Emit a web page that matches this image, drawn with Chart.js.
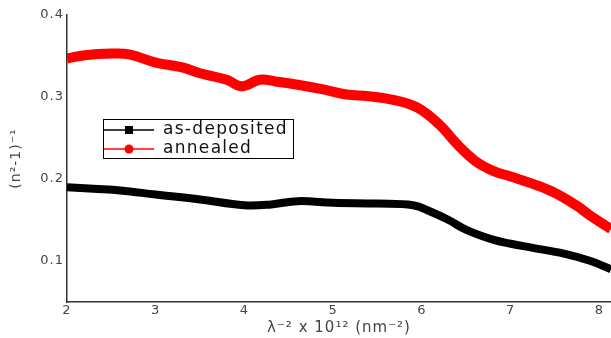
<!DOCTYPE html>
<html>
<head>
<meta charset="utf-8">
<script src="https://cdn.jsdelivr.net/npm/chart.js@4"></script>
<style>
  html, body { margin: 0; padding: 0; background: #fff; }
  #wrap { width: 611px; height: 338px; position: relative; }
</style>
</head>
<body>
<div id="wrap"><canvas id="chart"></canvas></div>
<script>
// values
const depositedX = [2.0, 2.3, 2.6, 3.0, 3.5, 4.0, 4.3, 4.6, 5.0, 5.5, 5.9, 6.1, 6.3, 6.5, 6.8, 7.0, 7.25, 7.6, 7.9, 8.13];
const depositedY = [0.190, 0.188, 0.186, 0.181, 0.175, 0.168, 0.169, 0.173, 0.171, 0.170, 0.168, 0.160, 0.150, 0.138, 0.126, 0.121, 0.116, 0.109, 0.100, 0.090];

const annealedX = [2.0, 2.2, 2.5, 2.7, 3.0, 3.3, 3.5, 3.8, 3.97, 4.17, 4.35, 4.6, 4.9, 5.15, 5.4, 5.7, 5.95, 6.2, 6.4, 6.6, 6.8, 7.0, 7.25, 7.5, 7.75, 7.9, 8.13];
const annealedY = [0.347, 0.351, 0.353, 0.352, 0.342, 0.336, 0.329, 0.321, 0.313, 0.321, 0.319, 0.315, 0.309, 0.303, 0.301, 0.296, 0.287, 0.266, 0.242, 0.222, 0.210, 0.203, 0.194, 0.183, 0.167, 0.155, 0.139];

const yTicks = [0.1, 0.2, 0.3, 0.4];
const seriesNames = ['as-deposited', 'annealed'];

const FONT = 'DejaVu Sans';

function toPoints(xs, ys) {
    return xs.map((x, i) => ({ x: x, y: ys[i] }));
}

// the reference lettering is wide, so space it out a little
const wideText = {
    id: 'wideText',
    beforeDraw(chart) {
        chart.ctx.letterSpacing = '1px';
    }
};

// small boxed legend sitting inside the plot
const boxLegend = {
    id: 'boxLegend',
    afterDraw(chart) {
        const ctx = chart.ctx;
        const left = 103, top = 119, w = 190, h = 39;
        ctx.save();
        ctx.strokeStyle = '#000';
        ctx.lineWidth = 1;
        ctx.strokeRect(left + 0.5, top + 0.5, w, h);

        const rows = [
            { y: top + 11, color: '#000', marker: 'square' },
            { y: top + 30, color: '#ff0000', marker: 'circle' }
        ];
        rows.forEach((r, i) => {
            ctx.strokeStyle = r.color;
            ctx.lineWidth = 1.5;
            ctx.beginPath();
            ctx.moveTo(left + 1, r.y);
            ctx.lineTo(left + 51, r.y);
            ctx.stroke();
            ctx.fillStyle = r.color;
            if (r.marker === 'square') {
                ctx.fillRect(left + 22, r.y - 4, 8, 8);
            } else {
                ctx.beginPath();
                ctx.arc(left + 26, r.y, 4.5, 0, Math.PI * 2);
                ctx.fill();
            }
            ctx.fillStyle = '#111';
            ctx.font = '17px "' + FONT + '"';
            ctx.letterSpacing = '1.3px';
            ctx.textBaseline = 'middle';
            ctx.fillText(seriesNames[i], left + 60, r.y);
        });
        ctx.restore();
    }
};

const chart = new Chart(document.getElementById('chart'), {
    type: 'line',
    data: {
        datasets: [
            {
                label: seriesNames[0],
                data: toPoints(depositedX, depositedY),
                borderColor: '#000',
                borderWidth: 8,
                pointRadius: 0,
                tension: 0.4
            },
            {
                label: seriesNames[1],
                data: toPoints(annealedX, annealedY),
                borderColor: '#ff0000',
                borderWidth: 10,
                pointRadius: 0,
                tension: 0.4
            }
        ]
    },
    options: {
        responsive: true,
        maintainAspectRatio: false,
        animation: false,
        layout: { padding: { top: 15, right: 0, left: 0, bottom: 0 } },
        plugins: {
            legend: { display: false },
            tooltip: { enabled: false }
        },
        scales: {
            x: {
                type: 'linear',
                min: 2,
                max: 8.13,
                border: { color: '#333', width: 1.5 },
                grid: { display: false, drawTicks: false },
                afterBuildTicks: function (scale) {
                    scale.ticks = [2, 3, 4, 5, 6, 7, 8].map(v => ({ value: v }));
                },
                ticks: {
                    color: '#444',
                    padding: 1,
                    maxRotation: 0,
                    font: { family: FONT, size: 13 }
                },
                title: {
                    display: true,
                    text: 'λ⁻² x 10¹² (nm⁻²)',
                    color: '#444',
                    padding: { top: 0, bottom: 1 },
                    font: { family: FONT, size: 15 }
                },
                afterFit: function (scale) {
                    scale.height = 36;
                }
            },
            y: {
                min: 0.05,
                max: 0.4,
                border: { color: '#333', width: 1.5 },
                grid: { display: false, drawTicks: false },
                afterBuildTicks: function (scale) {
                    scale.ticks = yTicks.map(v => ({ value: v }));
                },
                ticks: {
                    color: '#444',
                    padding: 3,
                    font: { family: FONT, size: 13 },
                    callback: function (value) {
                        return value.toFixed(1);
                    }
                },
                title: {
                    display: true,
                    text: '(n²-1)⁻¹',
                    color: '#444',
                    padding: { top: 8, bottom: 0 },
                    font: { family: FONT, size: 14 }
                },
                afterFit: function (scale) {
                    scale.width = 67;
                }
            }
        }
    },
    plugins: [wideText, boxLegend]
});
</script>
</body>
</html>
